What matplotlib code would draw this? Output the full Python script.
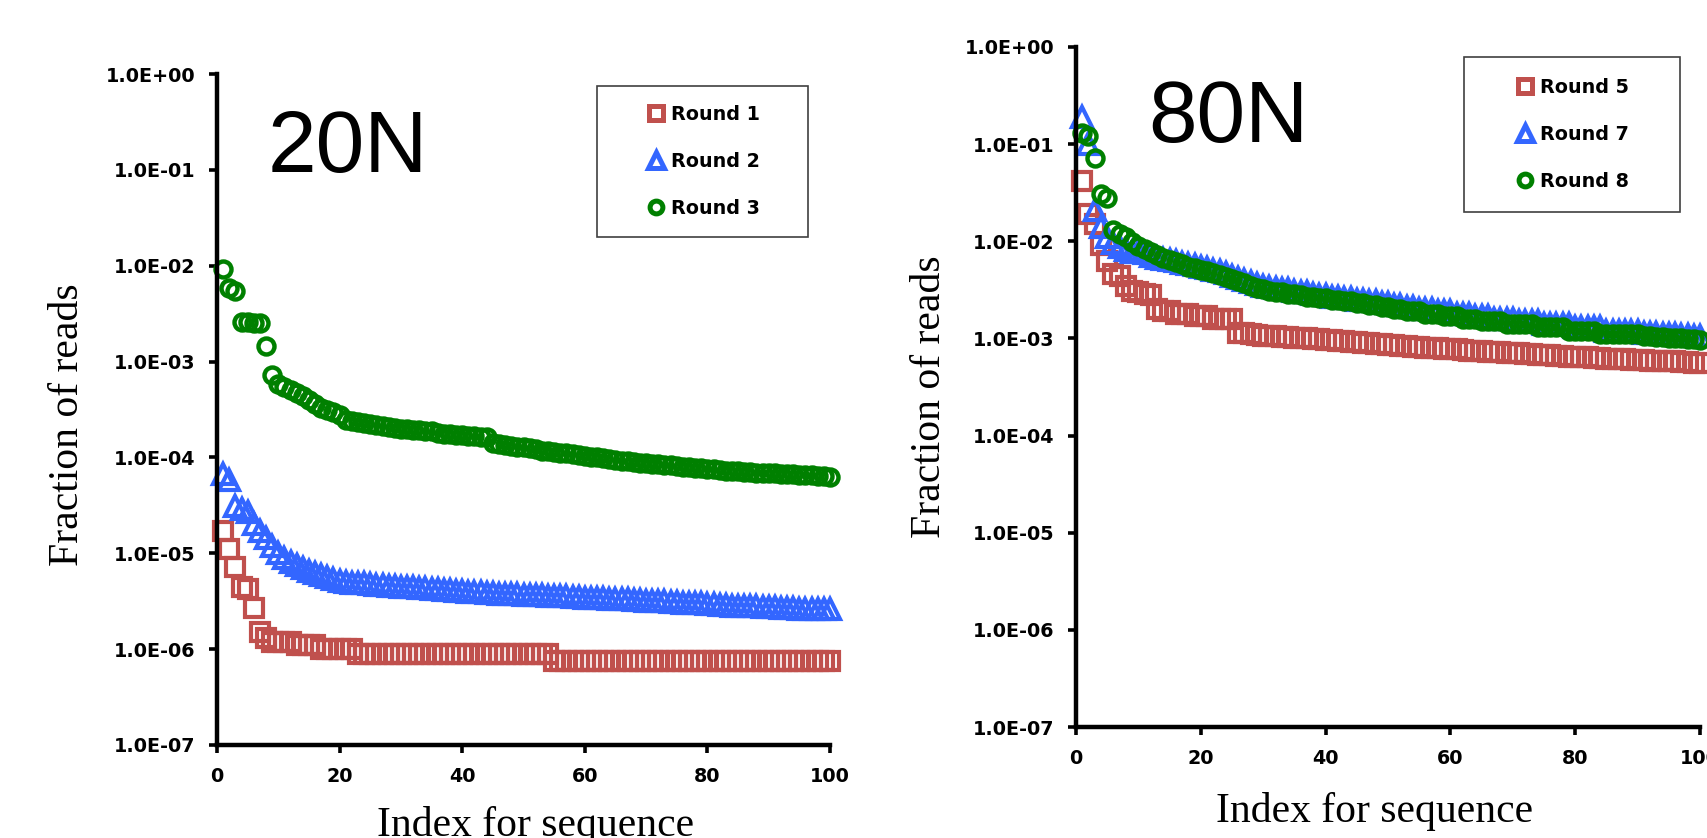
import matplotlib
matplotlib.use("Agg")
import matplotlib.pyplot as plt
from matplotlib.ticker import FixedLocator, NullLocator, FuncFormatter
from matplotlib.patches import Rectangle
import numpy as np

# --- read fractions for the top 100 sequences of each round ---

seq_index = np.arange(1, 101)

# 20N library
round1 = [1.7e-5, 1.1e-5, 7.2e-6, 4.4e-6, 4.2e-6, 2.7e-6, 1.5e-6, 1.3e-6, 1.2e-6, 1.2e-6,
          1.2e-6, 1.2e-6, 1.1e-6, 1.1e-6, 1.1e-6, 1.1e-6, 1.0e-6, 1.0e-6, 1.0e-6, 1.0e-6,
          1.0e-6, 1.0e-6, 8.8e-7, 8.8e-7, 8.8e-7, 8.8e-7, 8.8e-7, 8.8e-7, 8.8e-7, 8.8e-7,
          8.8e-7, 8.8e-7, 8.8e-7, 8.8e-7, 8.8e-7, 8.8e-7, 8.8e-7, 8.8e-7, 8.8e-7, 8.8e-7,
          8.8e-7, 8.8e-7, 8.8e-7, 8.8e-7, 8.8e-7, 8.8e-7, 8.8e-7, 8.8e-7, 8.8e-7, 8.8e-7,
          8.8e-7, 8.8e-7, 8.8e-7, 8.8e-7, 7.5e-7, 7.5e-7, 7.5e-7, 7.5e-7, 7.5e-7, 7.5e-7,
          7.5e-7, 7.5e-7, 7.5e-7, 7.5e-7, 7.5e-7, 7.5e-7, 7.5e-7, 7.5e-7, 7.5e-7, 7.5e-7,
          7.5e-7, 7.5e-7, 7.5e-7, 7.5e-7, 7.5e-7, 7.5e-7, 7.5e-7, 7.5e-7, 7.5e-7, 7.5e-7,
          7.5e-7, 7.5e-7, 7.5e-7, 7.5e-7, 7.5e-7, 7.5e-7, 7.5e-7, 7.5e-7, 7.5e-7, 7.5e-7,
          7.5e-7, 7.5e-7, 7.5e-7, 7.5e-7, 7.5e-7, 7.5e-7, 7.5e-7, 7.5e-7, 7.5e-7, 7.5e-7]

round2 = [6.7e-5, 5.8e-5, 3.1e-5, 2.9e-5, 2.7e-5, 2.0e-5, 1.7e-5, 1.45e-5, 1.2e-5, 1.0e-5,
          9.0e-6, 8.2e-6, 7.5e-6, 7.0e-6, 6.6e-6, 6.2e-6, 5.9e-6, 5.6e-6, 5.4e-6, 5.2e-6,
          5.0e-6, 4.95e-6, 4.9e-6, 4.85e-6, 4.8e-6, 4.7e-6, 4.65e-6, 4.6e-6, 4.55e-6, 4.5e-6,
          4.4e-6, 4.4e-6, 4.35e-6, 4.3e-6, 4.25e-6, 4.2e-6, 4.15e-6, 4.1e-6, 4.05e-6, 4.0e-6,
          3.95e-6, 3.9e-6, 3.9e-6, 3.85e-6, 3.85e-6, 3.8e-6, 3.8e-6, 3.75e-6, 3.75e-6, 3.7e-6,
          3.7e-6, 3.65e-6, 3.65e-6, 3.6e-6, 3.6e-6, 3.55e-6, 3.55e-6, 3.5e-6, 3.5e-6, 3.45e-6,
          3.45e-6, 3.4e-6, 3.4e-6, 3.35e-6, 3.35e-6, 3.3e-6, 3.3e-6, 3.25e-6, 3.25e-6, 3.2e-6,
          3.2e-6, 3.15e-6, 3.15e-6, 3.1e-6, 3.1e-6, 3.05e-6, 3.05e-6, 3.0e-6, 3.0e-6, 2.95e-6,
          2.95e-6, 2.9e-6, 2.9e-6, 2.85e-6, 2.85e-6, 2.8e-6, 2.8e-6, 2.8e-6, 2.75e-6, 2.75e-6,
          2.75e-6, 2.7e-6, 2.7e-6, 2.7e-6, 2.65e-6, 2.65e-6, 2.65e-6, 2.6e-6, 2.6e-6, 2.6e-6]

round3 = [9.2e-3, 5.8e-3, 5.5e-3, 2.6e-3, 2.6e-3, 2.55e-3, 2.5e-3, 1.45e-3, 7.2e-4, 5.8e-4,
          5.4e-4, 5.1e-4, 4.7e-4, 4.4e-4, 4.0e-4, 3.6e-4, 3.3e-4, 3.1e-4, 2.95e-4, 2.8e-4,
          2.45e-4, 2.4e-4, 2.35e-4, 2.3e-4, 2.25e-4, 2.2e-4, 2.15e-4, 2.1e-4, 2.05e-4, 2.0e-4,
          1.98e-4, 1.95e-4, 1.92e-4, 1.9e-4, 1.88e-4, 1.8e-4, 1.77e-4, 1.74e-4, 1.72e-4, 1.7e-4,
          1.68e-4, 1.66e-4, 1.64e-4, 1.62e-4, 1.4e-4, 1.38e-4, 1.35e-4, 1.32e-4, 1.3e-4, 1.27e-4,
          1.24e-4, 1.21e-4, 1.18e-4, 1.16e-4, 1.14e-4, 1.12e-4, 1.1e-4, 1.08e-4, 1.06e-4, 1.04e-4,
          1.02e-4, 1.0e-4, 9.8e-5, 9.6e-5, 9.4e-5, 9.2e-5, 9.1e-5, 8.9e-5, 8.8e-5, 8.7e-5,
          8.6e-5, 8.5e-5, 8.4e-5, 8.3e-5, 8.2e-5, 8.0e-5, 7.9e-5, 7.8e-5, 7.7e-5, 7.6e-5,
          7.5e-5, 7.4e-5, 7.3e-5, 7.25e-5, 7.2e-5, 7.1e-5, 7.0e-5, 6.95e-5, 6.9e-5, 6.85e-5,
          6.8e-5, 6.75e-5, 6.7e-5, 6.65e-5, 6.6e-5, 6.55e-5, 6.5e-5, 6.45e-5, 6.4e-5, 6.3e-5]

# 80N library
round5 = [0.042, 0.019, 0.015, 0.0092, 0.0062, 0.0046, 0.0044, 0.0035, 0.0031, 0.0030,
          0.0029, 0.0028, 0.0020, 0.0019, 0.0019, 0.0018, 0.0018, 0.0018, 0.0017, 0.0017,
          0.0017, 0.0016, 0.0016, 0.0016, 0.0016, 0.00115, 0.00113, 0.00111, 0.00109, 0.00107,
          0.00106, 0.00105, 0.00104, 0.00103, 0.00102, 0.00101, 0.00100, 0.00099, 0.00098, 0.00097,
          0.00096, 0.00095, 0.00093, 0.00092, 0.00091, 0.00090, 0.00089, 0.00088, 0.00087, 0.00086,
          0.00085, 0.00084, 0.00083, 0.00082, 0.00081, 0.00080, 0.00080, 0.00079, 0.00078, 0.00077,
          0.00077, 0.00076, 0.00075, 0.00074, 0.00074, 0.00073, 0.00072, 0.00072, 0.00071, 0.00070,
          0.00070, 0.00069, 0.00069, 0.00068, 0.00068, 0.00067, 0.00066, 0.00066, 0.00065, 0.00065,
          0.00064, 0.00064, 0.00063, 0.00063, 0.00062, 0.00062, 0.00061, 0.00061, 0.00060, 0.00060,
          0.00060, 0.00059, 0.00059, 0.00058, 0.00058, 0.00058, 0.00057, 0.00057, 0.00056, 0.00056]

round7 = [0.19, 0.10, 0.021, 0.014, 0.011, 0.0095, 0.0088, 0.0082, 0.0078, 0.0077,
          0.0075, 0.0071, 0.0068, 0.0066, 0.0064, 0.0062, 0.0060, 0.0058, 0.0057, 0.0055,
          0.0053, 0.0051, 0.0049, 0.0047, 0.0044, 0.0042, 0.0040, 0.0038, 0.0036, 0.0035,
          0.0034, 0.0033, 0.0032, 0.0032, 0.0031, 0.0030, 0.0030, 0.0029, 0.0028, 0.0028,
          0.0027, 0.0027, 0.0026, 0.0026, 0.0025, 0.0025, 0.0024, 0.0024, 0.0023, 0.0023,
          0.0022, 0.0022, 0.0021, 0.0021, 0.0020, 0.0020, 0.0020, 0.0019, 0.0019, 0.0019,
          0.0018, 0.0018, 0.0018, 0.0017, 0.0017, 0.0017, 0.0016, 0.0016, 0.0016, 0.0016,
          0.0015, 0.0015, 0.0015, 0.0015, 0.0014, 0.0014, 0.0014, 0.0014, 0.0014, 0.0013,
          0.0013, 0.0013, 0.0013, 0.0013, 0.0012, 0.0012, 0.0012, 0.0012, 0.0012, 0.0012,
          0.00115, 0.00114, 0.00113, 0.00112, 0.00111, 0.00110, 0.00109, 0.00108, 0.00107, 0.00106]

round8 = [0.13, 0.12, 0.072, 0.031, 0.028, 0.013, 0.012, 0.011, 0.0098, 0.0090,
          0.0083, 0.0077, 0.0072, 0.0068, 0.0064, 0.0061, 0.0058, 0.0055, 0.0053, 0.0051,
          0.0049, 0.0047, 0.0045, 0.0043, 0.0041, 0.0039, 0.0037, 0.0035, 0.0033, 0.0032,
          0.0031, 0.0030, 0.0030, 0.0029, 0.0029, 0.0028, 0.0027, 0.0027, 0.0026, 0.0026,
          0.0025, 0.0025, 0.0024, 0.0024, 0.0023, 0.0023, 0.0022, 0.0022, 0.0021, 0.0021,
          0.0020, 0.0020, 0.0019, 0.0019, 0.0019, 0.0018, 0.0018, 0.0018, 0.0017, 0.0017,
          0.0017, 0.0016, 0.0016, 0.0016, 0.0015, 0.0015, 0.0015, 0.0015, 0.0014, 0.0014,
          0.0014, 0.0014, 0.0014, 0.0013, 0.0013, 0.0013, 0.0013, 0.0013, 0.0012, 0.0012,
          0.0012, 0.0012, 0.0012, 0.0011, 0.0011, 0.0011, 0.0011, 0.0011, 0.0011, 0.0011,
          0.00105, 0.00105, 0.00104, 0.00103, 0.00102, 0.00101, 0.00100, 0.00099, 0.00098, 0.00097]

y_ticks = [1e-7, 1e-6, 1e-5, 1e-4, 1e-3, 1e-2, 1e-1, 1e0]
x_ticks = [0, 20, 40, 60, 80, 100]

RED = "#C0504D"
BLUE = "#3366FF"
GREEN = "#008000"

W, H = 1707, 838
plt.rcParams["font.family"] = "DejaVu Sans"
plt.rcParams["font.weight"] = "bold"

fig = plt.figure(figsize=(W / 100, H / 100), dpi=100)
fig.patch.set_facecolor("white")


def px_axes(left, top, right, bottom):
    # axes box given in pixel edges of the figure
    return fig.add_axes([left / W, 1 - bottom / H, (right - left) / W, (bottom - top) / H])


def style_axes(ax):
    ax.set_yscale("log")
    ax.set_xlim(0, 100)
    ax.set_ylim(1e-7, 1)
    ax.xaxis.set_major_locator(FixedLocator(x_ticks))
    ax.yaxis.set_major_locator(FixedLocator(y_ticks))
    ax.yaxis.set_minor_locator(NullLocator())
    ax.yaxis.set_major_formatter(FuncFormatter(lambda v, p: f"{v:.1E}"))
    for s in ("top", "right"):
        ax.spines[s].set_visible(False)
    for s in ("left", "bottom"):
        ax.spines[s].set_linewidth(3.2)
    ax.tick_params(direction="out", length=5.5, width=2.6, pad=10, labelsize=13.8)
    ax.set_facecolor("white")


def draw_series(ax, series, labels):
    # hollow markers with heavy outlines; green goes on top
    styles = [("s", RED, 13, 3.0), ("^", BLUE, 14, 3.0), ("o", GREEN, 11.5, 3.2)]
    for vals, lab, (mk, col, ms, ew) in zip(series, labels, styles):
        ax.plot(seq_index, vals, ls="none", marker=mk, ms=ms, mfc="none",
                mec=col, mew=ew, label=lab, clip_on=False)


def draw_legend(ax, box):
    left, top, right, bottom = box
    cx = (left + right) / 2 / W
    cy = 1 - (top + bottom) / 2 / H
    leg = ax.legend(loc="center", bbox_to_anchor=(cx, cy), bbox_transform=fig.transFigure,
                    frameon=False, numpoints=1, handlelength=1.1, handletextpad=0.25,
                    labelspacing=1.45, borderpad=0, fontsize=13.8, markerscale=0.8)
    for h in leg.legend_handles:
        h.set_markeredgewidth(3.6)
    fig.add_artist(Rectangle((left / W, 1 - bottom / H), (right - left) / W, (bottom - top) / H,
                             transform=fig.transFigure, fill=False, edgecolor="#404040", lw=1.2))


# left panel: 20N
ax1 = px_axes(217, 74, 830, 745)
style_axes(ax1)
draw_series(ax1, [round1, round2, round3], ["Round 1", "Round 2", "Round 3"])
draw_legend(ax1, (597, 86, 808, 237))

# right panel: 80N
ax2 = px_axes(1076, 47, 1700, 727)
style_axes(ax2)
draw_series(ax2, [round5, round7, round8], ["Round 5", "Round 7", "Round 8"])
draw_legend(ax2, (1464, 57, 1680, 212))

# panel tags
fig.text(268 / W, 1 - 172 / H, "20N", fontsize=63, family="Liberation Sans",
         weight="normal", ha="left", va="baseline")
fig.text(1148 / W, 1 - 142 / H, "80N", fontsize=63, family="Liberation Sans",
         weight="normal", ha="left", va="baseline")

# axis titles
lab_kw = dict(fontsize=30, family="Liberation Serif", weight="normal")
fig.text(536 / W, 1 - 836 / H, "Index for sequence", ha="center", va="baseline", **lab_kw)
fig.text(1375 / W, 1 - 822 / H, "Index for sequence", ha="center", va="baseline", **lab_kw)
fig.text(68 / W, 1 - 425 / H, "Fraction of reads", rotation=90, ha="center", va="center", **lab_kw)
fig.text(930 / W, 1 - 397 / H, "Fraction of reads", rotation=90, ha="center", va="center", **lab_kw)

fig.savefig("out.png", dpi=100, facecolor="white")
